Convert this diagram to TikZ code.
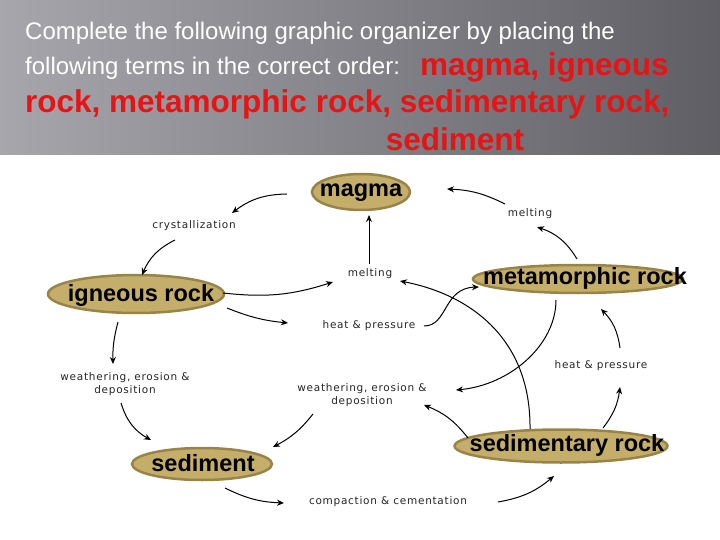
\documentclass[tikz,border=0pt]{standalone}
\usepackage{fontspec}
\setmainfont{Liberation Sans}
\newfontfamily\lblfont[LetterSpace=7]{DejaVu Sans}
\usetikzlibrary{shapes.geometric,arrows.meta}
\definecolor{hdrL}{RGB}{168,166,173}
\definecolor{hdrM}{RGB}{132,131,137}
\definecolor{hdrR}{RGB}{95,94,100}
\definecolor{tanfill}{RGB}{196,174,106}
\definecolor{tanedge}{RGB}{152,132,72}
\definecolor{hred}{RGB}{230,20,20}
\begin{document}
\begin{tikzpicture}[x=1pt,y=-1pt,
  rock/.style={ellipse,draw=tanedge,fill=tanfill,line width=2.5pt,inner sep=0pt},
  rocktext/.style={font=\fontsize{23.5}{26}\selectfont\bfseries,inner sep=0pt},
  lbl/.style={font=\lblfont\fontsize{10.5}{13}\selectfont,align=center,inner sep=0pt,text=black!85},
  arr/.style={line width=1pt,-{Stealth[length=7pt,width=6pt]}},
  hwhite/.style={font=\fontsize{24}{28}\selectfont,text=white,anchor=base west,inner sep=0pt},
  hredtxt/.style={font=\fontsize{31.5}{36}\selectfont\bfseries,text=hred,inner sep=0pt}]
\useasboundingbox (0,0) rectangle (720,540);
\fill[white] (0,0) rectangle (720,540);
% header
\shade[left color=hdrL,right color=hdrR,middle color=hdrM] (0,0) rectangle (720,155);
\node[hwhite] (h1) at (25,40) {Complete the following graphic organizer by placing the};
\node[hwhite] (h2) at (25,75) {following terms in the correct order:};
\node[hredtxt,anchor=base west] (h3) at (420,76) {magma, igneous};
\node[hredtxt,anchor=base west] (h4) at (25,113) {rock, metamorphic rock, sedimentary rock,};
\node[hredtxt,anchor=base] (h5) at (455,151) {sediment};
% rock ellipses
\node[rock,minimum width=98pt,minimum height=36pt] (magma) at (361,192) {};
\node[rocktext] (magmaT) at (361,193) {magma};
\node[rock,minimum width=210pt,minimum height=28pt] (meta) at (578,279) {};
\node[rocktext] (metaT) at (585,278) {metamorphic rock};
\node[rock,minimum width=176pt,minimum height=38pt] (ign) at (136,294) {};
\node[rocktext] (ignT) at (141,295) {igneous rock};
\node[rock,minimum width=140pt,minimum height=32pt] (sed) at (202,464) {};
\node[rocktext] (sedT) at (203,463) {sediment};
\node[rock,minimum width=213pt,minimum height=33pt] (sedr) at (561,446) {};
\node[rocktext] (sedrT) at (567,445) {sedimentary rock};
% process labels
\node[lbl] (cryst) at (194,226) {crystallization};
\node[lbl] (melt1) at (530,214) {melting};
\node[lbl] (melt2) at (370,274) {melting};
\node[lbl] (hp1) at (369,326) {heat \& pressure};
\node[lbl] (hp2) at (601,366) {heat \& pressure};
\node[lbl] (we1) at (125,384) {weathering, erosion \&\\deposition};
\node[lbl] (we2) at (362,395) {weathering, erosion \&\\deposition};
\node[lbl] (comp) at (388,502) {compaction \& cementation};
% connector end points
\coordinate (a1s) at (287,194); \coordinate (a1e) at (232,213);
\coordinate (a2s) at (175,240); \coordinate (a2e) at (142,275);
\coordinate (a3s) at (223,293); \coordinate (a3e) at (333,282);
\coordinate (a4s) at (227,308); \coordinate (a4e) at (288,323);
\coordinate (a5s) at (369,264); \coordinate (a5e) at (369,215);
\coordinate (a6s) at (577,259); \coordinate (a6e) at (537,227);
\coordinate (a7s) at (505,204); \coordinate (a7e) at (447,189);
\coordinate (a8s) at (424,326); \coordinate (a8e) at (479,287);
\coordinate (a9s) at (556,300); \coordinate (a9e) at (456,390);
\coordinate (a10s) at (530,429); \coordinate (a10e) at (400,281);
\coordinate (a11s) at (468,438); \coordinate (a11e) at (424,405);
\coordinate (a12s) at (313,414); \coordinate (a12e) at (273,447);
\coordinate (a13s) at (121,403); \coordinate (a13e) at (151,440);
\coordinate (a14s) at (118,322); \coordinate (a14e) at (113,364);
\coordinate (a15s) at (225,488); \coordinate (a15e) at (284,503);
\coordinate (a16s) at (498,502); \coordinate (a16e) at (554,476);
\coordinate (a17s) at (603,428); \coordinate (a17e) at (620,387);
\coordinate (a18s) at (620,348); \coordinate (a18e) at (601,309);
% connectors
\draw[arr] (a1s) to[bend right=18] (a1e);
\draw[arr] (a2s) to[bend right=20] (a2e);
\draw[arr] (a3s) to[bend right=12] (a3e);
\draw[arr] (a4s) to[bend right=8] (a4e);
\draw[arr] (a5s) -- (a5e);
\draw[arr] (a6s) to[bend right=20] (a6e);
\draw[arr] (a7s) to[bend right=12] (a7e);
\draw[arr] (a8s) .. controls (448,326) and (443,288) .. (a8e);
\draw[arr] (a9s) .. controls (556,345) and (510,385) .. (a9e);
\draw[arr] (a10s) .. controls (531,340) and (472,295) .. (a10e);
\draw[arr] (a11s) to[bend right=15] (a11e);
\draw[arr] (a12s) to[bend left=12] (a12e);
\draw[arr] (a13s) to[bend right=22] (a13e);
\draw[arr] (a14s) to[bend right=8] (a14e);
\draw[arr] (a15s) to[bend right=12] (a15e);
\draw[arr] (a16s) to[bend right=15] (a16e);
\draw[arr] (a17s) to[bend right=15] (a17e);
\draw[arr] (a18s) to[bend right=18] (a18e);
\end{tikzpicture}
\end{document}
